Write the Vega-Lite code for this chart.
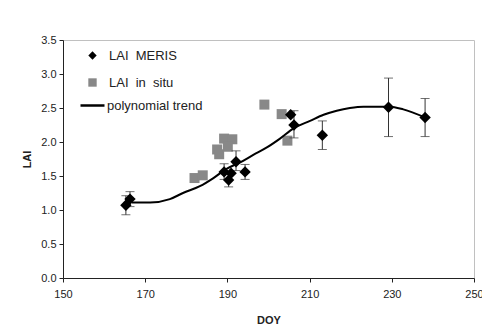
{
  "$schema": "https://vega.github.io/schema/vega-lite/v6.json",
  "width": 411,
  "height": 238,
  "autosize": {"type": "none"},
  "padding": {"left": 63, "top": 40, "right": 8, "bottom": 52},
  "background": "white",
  "config": {
    "view": {"stroke": "#c0c0c0", "strokeWidth": 1},
    "font": "Liberation Sans",
    "axis": {"grid": false, "domainColor": "#222", "tickColor": "#222", "labelColor": "#222", "labelFont": "Liberation Sans", "labelFontSize": 11, "titleFont": "Liberation Sans", "titleFontSize": 11, "titleFontWeight": "bold", "titleColor": "#222", "tickSize": 4, "domainWidth": 1, "labelOverlap": false, "labelFlush": false}
  },
  "datasets": {
    "pts": [
      {"doy": 182.0, "lai": 1.47, "series": "LAI  in  situ"},
      {"doy": 184.0, "lai": 1.51, "series": "LAI  in  situ"},
      {"doy": 187.5, "lai": 1.89, "series": "LAI  in  situ"},
      {"doy": 188.0, "lai": 1.82, "series": "LAI  in  situ"},
      {"doy": 189.2, "lai": 2.05, "series": "LAI  in  situ"},
      {"doy": 191.2, "lai": 2.04, "series": "LAI  in  situ"},
      {"doy": 190.1, "lai": 1.93, "series": "LAI  in  situ"},
      {"doy": 199.0, "lai": 2.55, "series": "LAI  in  situ"},
      {"doy": 203.2, "lai": 2.41, "series": "LAI  in  situ"},
      {"doy": 204.6, "lai": 2.02, "series": "LAI  in  situ"},
      {"doy": 165.3, "lai": 1.07, "series": "LAI  MERIS"},
      {"doy": 166.3, "lai": 1.16, "series": "LAI  MERIS"},
      {"doy": 189.2, "lai": 1.56, "series": "LAI  MERIS"},
      {"doy": 190.3, "lai": 1.44, "series": "LAI  MERIS"},
      {"doy": 190.9, "lai": 1.54, "series": "LAI  MERIS"},
      {"doy": 192.1, "lai": 1.71, "series": "LAI  MERIS"},
      {"doy": 194.3, "lai": 1.56, "series": "LAI  MERIS"},
      {"doy": 205.4, "lai": 2.40, "series": "LAI  MERIS"},
      {"doy": 206.2, "lai": 2.25, "series": "LAI  MERIS"},
      {"doy": 213.1, "lai": 2.10, "series": "LAI  MERIS"},
      {"doy": 229.2, "lai": 2.51, "series": "LAI  MERIS"},
      {"doy": 238.1, "lai": 2.36, "series": "LAI  MERIS"}
    ],
    "err": [
      {"doy": 165.3, "lo": 0.93, "hi": 1.21},
      {"doy": 166.3, "lo": 1.05, "hi": 1.27},
      {"doy": 189.2, "lo": 1.45, "hi": 1.68},
      {"doy": 190.3, "lo": 1.34, "hi": 1.54},
      {"doy": 192.1, "lo": 1.58, "hi": 1.87},
      {"doy": 194.3, "lo": 1.45, "hi": 1.67},
      {"doy": 206.2, "lo": 2.06, "hi": 2.46},
      {"doy": 213.1, "lo": 1.89, "hi": 2.31},
      {"doy": 229.2, "lo": 2.08, "hi": 2.94},
      {"doy": 238.1, "lo": 2.08, "hi": 2.64}
    ],
    "trend": [
      {"doy": 166.7, "lai": 1.11, "series": "polynomial trend"},
      {"doy": 171.2, "lai": 1.11, "series": "polynomial trend"},
      {"doy": 176.0, "lai": 1.16, "series": "polynomial trend"},
      {"doy": 179.2, "lai": 1.25, "series": "polynomial trend"},
      {"doy": 183.3, "lai": 1.35, "series": "polynomial trend"},
      {"doy": 186.6, "lai": 1.47, "series": "polynomial trend"},
      {"doy": 189.9, "lai": 1.61, "series": "polynomial trend"},
      {"doy": 193.1, "lai": 1.70, "series": "polynomial trend"},
      {"doy": 196.3, "lai": 1.81, "series": "polynomial trend"},
      {"doy": 199.6, "lai": 1.92, "series": "polynomial trend"},
      {"doy": 202.8, "lai": 2.05, "series": "polynomial trend"},
      {"doy": 206.1, "lai": 2.20, "series": "polynomial trend"},
      {"doy": 210.1, "lai": 2.31, "series": "polynomial trend"},
      {"doy": 213.4, "lai": 2.40, "series": "polynomial trend"},
      {"doy": 216.6, "lai": 2.46, "series": "polynomial trend"},
      {"doy": 219.8, "lai": 2.50, "series": "polynomial trend"},
      {"doy": 223.1, "lai": 2.52, "series": "polynomial trend"},
      {"doy": 229.5, "lai": 2.52, "series": "polynomial trend"},
      {"doy": 232.8, "lai": 2.48, "series": "polynomial trend"},
      {"doy": 238.1, "lai": 2.36, "series": "polynomial trend"}
    ]
  },
  "layer": [
    {
      "data": {"name": "pts"},
      "transform": [{"filter": "datum.series === 'LAI  in  situ'"}],
      "mark": {"type": "point", "filled": true, "opacity": 1, "size": 100},
      "encoding": {
        "x": {"field": "doy", "type": "quantitative", "scale": {"domain": [150, 250], "nice": false, "zero": false}, "axis": {"title": "DOY", "values": [150, 170, 190, 210, 230, 250], "labelPadding": 6, "titlePadding": 15}},
        "y": {"field": "lai", "type": "quantitative", "scale": {"domain": [0, 3.5], "nice": false}, "axis": {"title": "LAI", "tickCount": 7, "format": ".1f", "labelPadding": 3, "titlePadding": 8}},
        "shape": {"field": "series", "type": "nominal", "scale": {"domain": ["LAI  MERIS", "LAI  in  situ"], "range": ["diamond", "square"]},
          "legend": {"title": null, "orient": "none", "legendX": 23, "legendY": 9, "padding": 0, "labelFont": "Liberation Sans", "labelFontSize": 13, "labelColor": "#222", "symbolSize": 70, "labelOffset": 10, "rowPadding": 13,
            "labelExpr": "replace(replace(datum.label, 'LAI  ', 'LAI\u00a0\u00a0'), 'in  situ', 'in\u00a0\u00a0situ')"}},
        "color": {"field": "series", "type": "nominal", "scale": {"domain": ["LAI  MERIS", "LAI  in  situ"], "range": ["black", "#888888"]}}
      }
    },
    {
      "data": {"name": "trend"},
      "mark": {"type": "line", "strokeWidth": 2, "interpolate": "monotone"},
      "encoding": {
        "x": {"field": "doy", "type": "quantitative"},
        "y": {"field": "lai", "type": "quantitative"},
        "stroke": {"field": "series", "type": "nominal", "scale": {"range": ["black"]},
          "legend": {"title": null, "orient": "none", "legendX": 16, "legendY": 52, "padding": 0, "labelFont": "Liberation Sans", "labelFontSize": 13, "labelColor": "#222", "symbolSize": 576, "symbolStrokeWidth": 2.5, "labelOffset": 1}}
      }
    },
    {
      "data": {"name": "err"},
      "mark": {"type": "rule", "color": "#333", "strokeWidth": 1},
      "encoding": {
        "x": {"field": "doy", "type": "quantitative"},
        "y": {"field": "lo", "type": "quantitative"},
        "y2": {"field": "hi"}
      }
    },
    {
      "data": {"name": "err"},
      "mark": {"type": "tick", "orient": "horizontal", "color": "#333", "size": 9, "thickness": 1},
      "encoding": {
        "x": {"field": "doy", "type": "quantitative"},
        "y": {"field": "lo", "type": "quantitative"}
      }
    },
    {
      "data": {"name": "err"},
      "mark": {"type": "tick", "orient": "horizontal", "color": "#333", "size": 9, "thickness": 1},
      "encoding": {
        "x": {"field": "doy", "type": "quantitative"},
        "y": {"field": "hi", "type": "quantitative"}
      }
    },
    {
      "data": {"name": "pts"},
      "transform": [{"filter": "datum.series === 'LAI  MERIS'"}],
      "mark": {"type": "point", "filled": true, "opacity": 1, "size": 130},
      "encoding": {
        "x": {"field": "doy", "type": "quantitative"},
        "y": {"field": "lai", "type": "quantitative"},
        "shape": {"field": "series", "type": "nominal"},
        "color": {"field": "series", "type": "nominal"}
      }
    }
  ]
}
